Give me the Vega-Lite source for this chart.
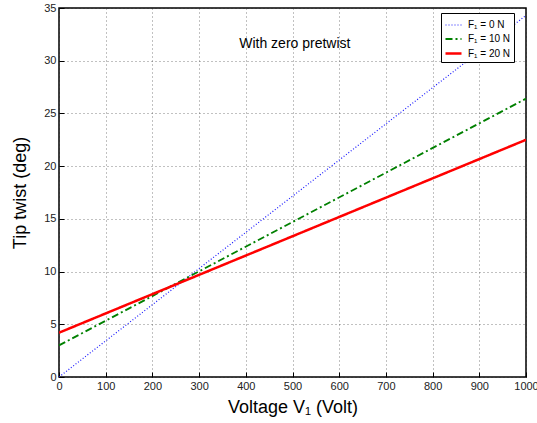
{
  "$schema": "https://vega.github.io/schema/vega-lite/v6.json",
  "width": 467,
  "height": 369,
  "autosize": {"type": "none"},
  "padding": {"left": 59, "top": 8, "right": 11, "bottom": 46},
  "background": "white",
  "config": {
    "font": "Liberation Sans",
    "view": {"stroke": "black", "strokeWidth": 1.5},
    "axis": {
      "grid": true,
      "gridColor": "#222",
      "gridDash": [1, 3],
      "gridWidth": 0.7,
      "gridOpacity": 0.8,
      "domain": false,
      "ticks": true,
      "tickSize": -5,
      "tickColor": "black",
      "labelFontSize": 11,
      "labelColor": "#222",
      "titleFontSize": 18,
      "titleFontWeight": "normal",
      "titleColor": "black"
    }
  },
  "datasets": {
    "lines": [
      {"V": 0, "T": 0, "F": "F₁ = 0 N"},
      {"V": 1000, "T": 34.3, "F": "F₁ = 0 N"},
      {"V": 0, "T": 3.0, "F": "F₁ = 10 N"},
      {"V": 1000, "T": 26.4, "F": "F₁ = 10 N"},
      {"V": 0, "T": 4.2, "F": "F₁ = 20 N"},
      {"V": 1000, "T": 22.5, "F": "F₁ = 20 N"}
    ],
    "label": [{"V": 505, "T": 31.6, "text": "With zero pretwist"}]
  },
  "layer": [
    {
      "data": {"name": "lines"},
      "mark": {"type": "line", "clip": true},
      "encoding": {
        "x": {
          "field": "V", "type": "quantitative",
          "scale": {"domain": [0, 1000], "nice": false},
          "axis": {"values": [0,100,200,300,400,500,600,700,800,900,1000], "format": "d", "title": "Voltage V₁ (Volt)", "labelPadding": 8, "titlePadding": 7, "labelFlush": false}
        },
        "y": {
          "field": "T", "type": "quantitative",
          "scale": {"domain": [0, 35], "nice": false},
          "axis": {"values": [0,5,10,15,20,25,30,35], "title": "Tip twist (deg)", "labelPadding": 8, "titlePadding": 14, "labelFlush": false}
        },
        "stroke": {
          "field": "F", "type": "nominal",
          "scale": {"domain": ["F₁ = 0 N", "F₁ = 10 N", "F₁ = 20 N"], "range": ["#1a1aff", "#008000", "#ff0000"]},
          "legend": {
            "title": null, "orient": "none", "legendX": 382, "legendY": 5,
            "fillColor": "white", "strokeColor": "black", "padding": 3,
            "symbolType": "stroke", "symbolSize": 256, "labelFontSize": 10, "labelColor": "black",
            "rowPadding": 0, "labelOffset": 5
          }
        },
        "strokeDash": {
          "field": "F", "type": "nominal",
          "scale": {"domain": ["F₁ = 0 N", "F₁ = 10 N", "F₁ = 20 N"], "range": [[1, 2], [7, 3, 2, 3], [1, 0]]},
          "legend": null
        },
        "strokeWidth": {
          "field": "F", "type": "nominal",
          "scale": {"domain": ["F₁ = 0 N", "F₁ = 10 N", "F₁ = 20 N"], "range": [1.2, 2.5, 4]},
          "legend": null
        }
      }
    },
    {
      "data": {"name": "label"},
      "mark": {"type": "text", "fontSize": 14, "color": "black"},
      "encoding": {
        "x": {"field": "V", "type": "quantitative"},
        "y": {"field": "T", "type": "quantitative"},
        "text": {"field": "text"}
      }
    }
  ]
}
